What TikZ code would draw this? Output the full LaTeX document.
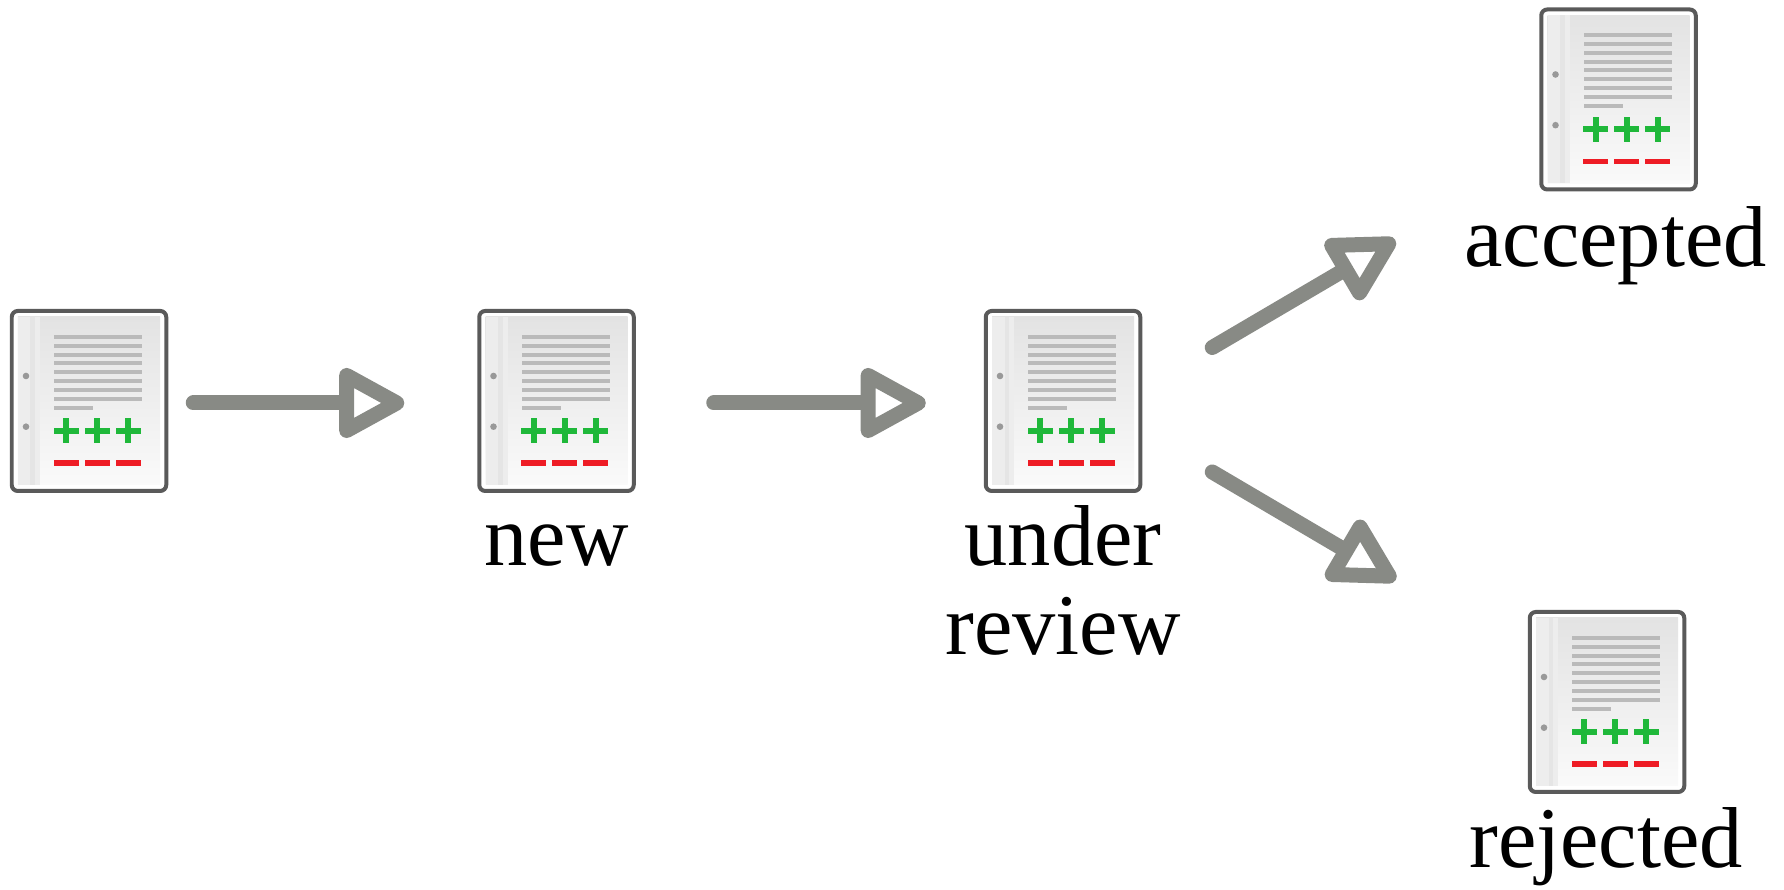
\documentclass[tikz,border=0pt]{standalone}
\usepackage{fontspec}
\setmainfont{Liberation Serif}
\usetikzlibrary{arrows.meta, positioning}
\definecolor{flowgray}{HTML}{888A85}
\definecolor{plusgreen}{HTML}{1FB83A}
\definecolor{minusred}{HTML}{EE1C25}
\tikzstyle{document} = [
	rectangle,
	rounded corners=.06cm,
	minimum width=1.545cm,
	minimum height=1.80cm,
	outer sep=0pt,
	inner sep=0pt,
	line width=.04cm,
	draw={rgb,255:red,90;green,90;blue,90},
	fill=white]
\tikzstyle{statuslabel} = [
	align=center,
	inner sep=0pt,
	outer sep=0pt,
	font=\fontsize{24.6}{26}\selectfont]
\tikzstyle{arrow} = [
	-{Triangle[open, round, length=.74cm, width=.76cm]},
	line width=.15cm,
	line cap=round,
	line join=round,
	draw=flowgray]
\newcommand{\docdetail}[1]{
	\begin{scope}[shift={(#1.center)}]
		\shade [top color=black!11, bottom color=black!2] (-.71,-.84) rectangle (.71,.84);
		\fill [black!7] (-.71,-.84) rectangle (-.49,.84);
		\fill [black!10] (-.585,-.84) rectangle (-.54,.84);
		\foreach \y in {.64,.552,.464,.377,.29,.2,.114,.024}
			\fill [black!27] (-.35,\y-.02) rectangle (.53,\y+.02);
		\fill [black!27] (-.35,-.086) rectangle (.04,-.046);
		\foreach \y in {.25,-.257}
			\fill [black!40] (-.63,\y) circle (.033);
		\foreach \x in {-.23,.08,.39} {
			\fill [plusgreen] (\x-.125,-.33) rectangle (\x+.125,-.27);
			\fill [plusgreen] (\x-.03,-.425) rectangle (\x+.03,-.175);
		}
		\foreach \x in {-.23,.08,.39}
			\fill [minusred] (\x-.125,-.65) rectangle (\x+.125,-.595);
	\end{scope}
}

\begin{document}
\begin{tikzpicture}
\useasboundingbox (0,0) rectangle (17.84,8.9);

% --- Nodes ---
\node (first) [document] at (.89,4.89) {};
\node (new) [document, right=3.13cm of first] {};
\node (review) [document, right=3.52cm of new] {};
\node (accepted) [document, right=4.01cm of review, yshift=3.015cm] {};
\node (rejected) [document, right=3.895cm of review, yshift=-3.01cm] {};

\docdetail{first}
\docdetail{new}
\docdetail{review}
\docdetail{accepted}
\docdetail{rejected}

\node (newlabel) [statuslabel, anchor=base] at ([yshift=-.75cm]new.south) {new};
\node (reviewlabel) [statuslabel, anchor=base] at ([yshift=-.75cm]review.south) {under};
\node (reviewlabeltwo) [statuslabel, anchor=base] at ([yshift=-1.64cm]review.south) {review};
\node (acceptedlabel) [statuslabel, anchor=base] at ([xshift=-.03cm,yshift=-.77cm]accepted.south) {accepted};
\node (rejectedlabel) [statuslabel, anchor=base] at ([xshift=-.01cm,yshift=-.76cm]rejected.south) {rejected};

\coordinate (upstart) at ([xshift=.72cm,yshift=.535cm]review.east);
\coordinate (upend) at ([xshift=-1.46cm,yshift=-1.405cm]accepted.west);
\coordinate (downstart) at ([xshift=.72cm,yshift=-.71cm]review.east);
\coordinate (downend) at ([xshift=-1.34cm,yshift=1.22cm]rejected.west);

% --- Arrows ---
\draw [arrow] ([xshift=.27cm,yshift=-.02cm]first.east) -- ([xshift=-.75cm,yshift=-.02cm]new.west);
\draw [arrow] ([xshift=.80cm,yshift=-.02cm]new.east) -- ([xshift=-.60cm,yshift=-.02cm]review.west);
\draw [arrow] (upstart) -- (upend);
\draw [arrow] (downstart) -- (downend);

\end{tikzpicture}
\end{document}
